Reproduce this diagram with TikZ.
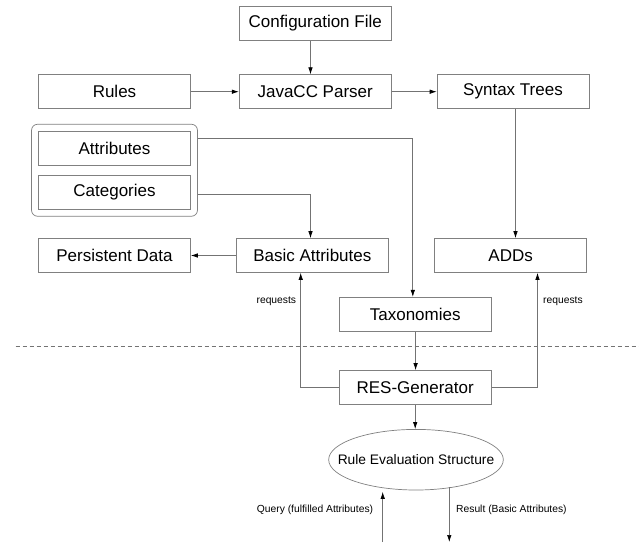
\documentclass[tikz,border=0pt]{standalone}
\usepackage{fontspec}
\setmainfont{Liberation Sans}
\usetikzlibrary{shapes.geometric,fit,arrows.meta}
\begin{document}
\begin{tikzpicture}[x=1pt,y=-1pt,
  box/.style={draw=black!50,line width=0.7pt,minimum width=152pt,minimum height=34pt,inner sep=0pt,font=\fontsize{17}{19}\selectfont},
  conn/.style={draw=black!55,line width=0.7pt},
  arr/.style={conn,-{Latex[length=7pt,width=4.5pt,black]}},
  lbl/.style={font=\fontsize{10.3}{12}\selectfont,inner sep=0pt}]
\useasboundingbox (0,0) rectangle (639,542);
\node[box] (config) at (315.2,23.4) {Configuration File};
\node[box] (rules) at (114.5,91.7) {Rules};
\node[box] (parser) at (315.2,91.7) {JavaCC Parser};
\node[box] (syntax) at (513,91.7) {Syntax Trees};
\node[box] (attr) at (114.5,148.2) {Attributes};
\node[box] (cat) at (114.5,192.3) {Categories};
\node[draw=black!50,line width=0.7pt,rounded corners=6pt,inner sep=6.6pt,fit=(attr)(cat)] (grp) {};
\node[box] (persist) at (114.5,255.5) {Persistent Data};
\node[box] (basic) at (312.3,255.5) {Basic Attributes};
\node[box] (adds) at (510.6,255.5) {ADDs};
\node[box] (tax) at (415.2,314.2) {Taxonomies};
\node[box] (res) at (415.2,387.5) {RES-Generator};
\node[draw=black!50,line width=0.7pt,ellipse,inner xsep=-16.5pt,inner ysep=0pt,minimum height=60.6pt,font=\fontsize{13.8}{16}\selectfont] (rse) at (416,459.7) {Rule Evaluation Structure};
\draw[black!55,line width=0.6pt,dash pattern=on 4pt off 3pt] (15.5,346) -- (639,346);
\draw[arr] ([xshift=-4.7pt]config.south) -- ([xshift=-4.7pt]parser.north);
\draw[arr] (rules.east) -- (parser.west);
\draw[arr] (parser.east) -- (syntax.west);
\draw[arr] ([xshift=2.5pt]syntax.south) -- ([xshift=2.5pt]syntax.south |- adds.north);
\draw[arr] ([yshift=-14.3pt]grp.north east) -| ([xshift=-2.4pt]tax.north);
\draw[arr] ([yshift=22.7pt]grp.south east) -| ([xshift=-1.8pt]basic.north);
\draw[arr] (basic.west) -- (persist.east);
\draw[arr] (res.west) -| ([xshift=-11.6pt]basic.south);
\draw[arr] (res.east) -| ([xshift=26.9pt]adds.south);
\draw[arr] ([xshift=0.4pt]tax.south) -- ([xshift=0.4pt]tax.south |- res.north);
\draw[arr] (res.south) -- (res.south |- rse.north);
\coordinate (qb) at (382.7,542);
\coordinate (rb) at (449.3,542);
\draw[arr] (qb) -- ([yshift=-1.5pt]qb |- rse.south);
\draw[arr] ([yshift=3pt]rb |- rse.south) -- (rb);
\node[lbl,anchor=east] (req1) at (296.3,301.7) {requests};
\node[lbl,anchor=west] (req2) at (543,301.7) {requests};
\node[lbl,anchor=east] (query) at (373.3,510) {Query (fulfilled Attributes)};
\node[lbl,anchor=west] (result) at (456,510) {Result (Basic Attributes)};
\end{tikzpicture}
\end{document}
